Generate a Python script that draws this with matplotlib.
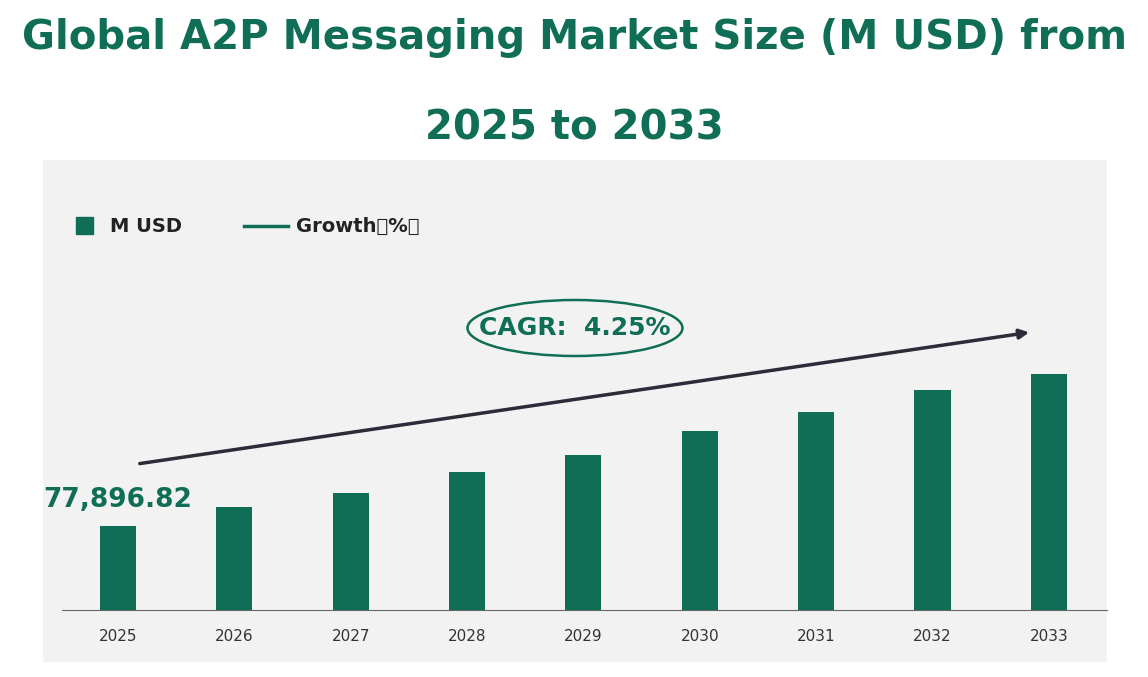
import matplotlib
matplotlib.use("Agg")
import matplotlib.pyplot as plt
from matplotlib.patches import Ellipse, FancyArrowPatch

years = ["2025","2026","2027","2028","2029","2030","2031","2032","2033"]
values = [77896.82, 81735, 84563, 88805, 92239, 97087, 100925, 105369, 108601]
first_label = "77,896.82"
cagr_text = "CAGR:  4.25%"

green = "#0f6e55"
W, H = 1148, 677
fig = plt.figure(figsize=(W/100, H/100), dpi=100)
def fx(px): return px / W
def fy(py): return 1 - py / H

# panel background
bg = fig.add_axes([fx(43), fy(662), fx(1107)-fx(43), fy(160)-fy(662)])
bg.set_facecolor("#f2f2f2"); bg.set_xticks([]); bg.set_yticks([])
for s in bg.spines.values(): s.set_visible(False)

ax = fig.add_axes([fx(43), fy(610), fx(1107)-fx(43), fy(160)-fy(610)])
ax.patch.set_alpha(0)
x = list(range(len(years)))
ax.bar(x, values, width=0.31, color=green, zorder=3)
ax.set_xlim(-0.645, 8.5)
ax.set_ylim(60929, 151829)
ax.set_xticks(x)
ax.set_xticklabels(years, fontsize=11, color="#333333")
ax.tick_params(axis="x", length=0, pad=14)
ax.set_yticks([])
for s in ["top", "right", "left"]: ax.spines[s].set_visible(False)
ax.spines["bottom"].set_color("#666666")
ax.spines["bottom"].set_bounds(-0.48, 8.5)
ax.text(0, values[0] + 2600, first_label, ha="center", va="bottom",
        fontsize=19, fontweight="bold", color=green)

fig.text(0.5, fy(38), "Global A2P Messaging Market Size (M USD) from",
         ha="center", va="center", fontsize=29, fontweight="bold", color=green)
fig.text(0.5, fy(128), "2025 to 2033", ha="center", va="center",
         fontsize=29, fontweight="bold", color=green)

# legend
fig.patches.append(plt.Rectangle((fx(76), fy(234)), fx(17), fy(217)-fy(234),
                                 transform=fig.transFigure, color=green))
fig.text(fx(110), fy(226), "M USD", va="center", fontsize=14, fontweight="bold", color="#222222")
fig.add_artist(plt.Line2D([fx(244), fx(288)], [fy(226), fy(226)], color=green, lw=2.5))
fig.text(fx(296), fy(226), "Growth（%）", va="center", fontsize=14, fontweight="bold",
         color="#222222", family=["DejaVu Sans", "Noto Sans CJK SC"])

arrow = FancyArrowPatch((fx(137), fy(464)), (fx(1032), fy(332)), transform=fig.transFigure,
                        arrowstyle="-|>", mutation_scale=14, color="#2d2a3a", lw=2.5)
fig.add_artist(arrow)
ell = Ellipse((fx(575), fy(328)), fx(215), fy(300)-fy(356), transform=fig.transFigure,
              fill=False, edgecolor=green, lw=1.8)
fig.add_artist(ell)
fig.text(fx(575), fy(328), cagr_text, ha="center", va="center", fontsize=18,
         fontweight="bold", color=green)

fig.savefig("out.png", dpi=100)
